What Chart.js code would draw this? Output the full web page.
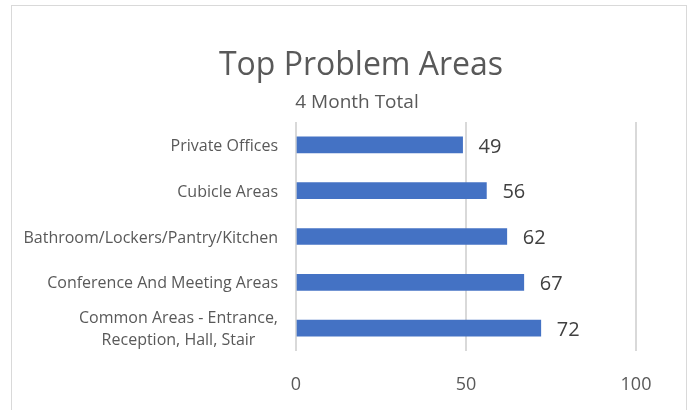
<!DOCTYPE html>
<html>
<head>
<meta charset="utf-8">
<script src="https://cdn.jsdelivr.net/npm/chart.js@4.4.0/dist/chart.umd.min.js"></script>
<style>
  body { margin: 0; background: #fff; }
  #wrap { position: relative; width: 691px; height: 410px; overflow: hidden; }
  #frame { position: absolute; left: 11px; top: 5px; width: 674px; height: 430px; border: 1px solid #d9d9d9; }
  canvas { position: absolute; left: 0; top: 0; }
</style>
</head>
<body>
<div id="wrap">
  <div id="frame"></div>
  <canvas id="myChart" width="691" height="410"></canvas>
</div>
<script>
const chartTitle = 'Top Problem Areas';
const chartSubtitle = '4 Month Total';
const categories = [
  'Private Offices',
  'Cubicle Areas',
  'Bathroom/Lockers/Pantry/Kitchen',
  'Conference And Meeting Areas',
  ['Common Areas - Entrance,', 'Reception, Hall, Stair']
];
const totals = [49, 56, 62, 67, 72];
const xTicks = [0, 50, 100];

const FONT = "'Open Sans', 'Liberation Sans', sans-serif";
const GREY = '#595959';

// title + subtitle, centred over the whole chart frame (not the plot)
const titles = {
  id: 'titles',
  afterDraw(chart) {
    const ctx = chart.ctx;
    ctx.save();
    ctx.fillStyle = GREY;
    ctx.textAlign = 'center';
    ctx.textBaseline = 'alphabetic';
    ctx.font = '32px ' + FONT;
    ctx.fillText(chartTitle, 361, 75);
    ctx.font = '19px ' + FONT;
    ctx.fillText(chartSubtitle, 357, 108);
    ctx.restore();
  }
};

// category labels, each line centred in its block, right edge near the plot
const yLabels = {
  id: 'yLabels',
  afterDraw(chart) {
    const ctx = chart.ctx;
    const y = chart.scales.y;
    ctx.save();
    ctx.font = '16px ' + FONT;
    ctx.fillStyle = GREY;
    ctx.textAlign = 'center';
    ctx.textBaseline = 'alphabetic';
    categories.forEach((c, i) => {
      const lines = Array.isArray(c) ? c : [c];
      const w = Math.max(...lines.map(l => ctx.measureText(l).width));
      const cx = chart.chartArea.left - 18 - w / 2;
      const mid = y.getPixelForValue(i);
      lines.forEach((l, k) => {
        ctx.fillText(l, cx, mid + 6 + (k - (lines.length - 1) / 2) * 22);
      });
    });
    ctx.restore();
  }
};

// value labels at the end of each bar
const valueLabels = {
  id: 'valueLabels',
  afterDatasetsDraw(chart) {
    const ctx = chart.ctx;
    const meta = chart.getDatasetMeta(0);
    ctx.save();
    ctx.font = '20px ' + FONT;
    ctx.fillStyle = '#404040';
    ctx.textAlign = 'left';
    ctx.textBaseline = 'middle';
    meta.data.forEach((bar, i) => {
      ctx.fillText(totals[i], bar.x + 16, bar.y + 2);
    });
    ctx.restore();
  }
};

new Chart(document.getElementById('myChart'), {
  type: 'bar',
  data: {
    labels: categories,
    datasets: [{
      data: totals,
      backgroundColor: '#4472c4',
      barThickness: 16
    }]
  },
  options: {
    indexAxis: 'y',
    responsive: false,
    animation: false,
    layout: { padding: { left: 0, right: 55, top: 122, bottom: 0 } },
    plugins: {
      legend: { display: false },
      tooltip: { enabled: false },
      title: { display: false }
    },
    scales: {
      x: {
        min: 0,
        max: 100,
        afterBuildTicks: s => { s.ticks = xTicks.map(v => ({ value: v })); },
        afterFit: s => { s.height = 59; },
        grid: { color: '#d9d9d9', lineWidth: 2, drawTicks: false },
        border: { display: false },
        ticks: { color: GREY, font: { family: FONT, size: 18 }, padding: 23 }
      },
      y: {
        afterFit: s => { s.width = 296; },
        grid: { display: false },
        border: { display: false },
        ticks: { display: false }
      }
    }
  },
  plugins: [titles, yLabels, valueLabels]
});
</script>
</body>
</html>
